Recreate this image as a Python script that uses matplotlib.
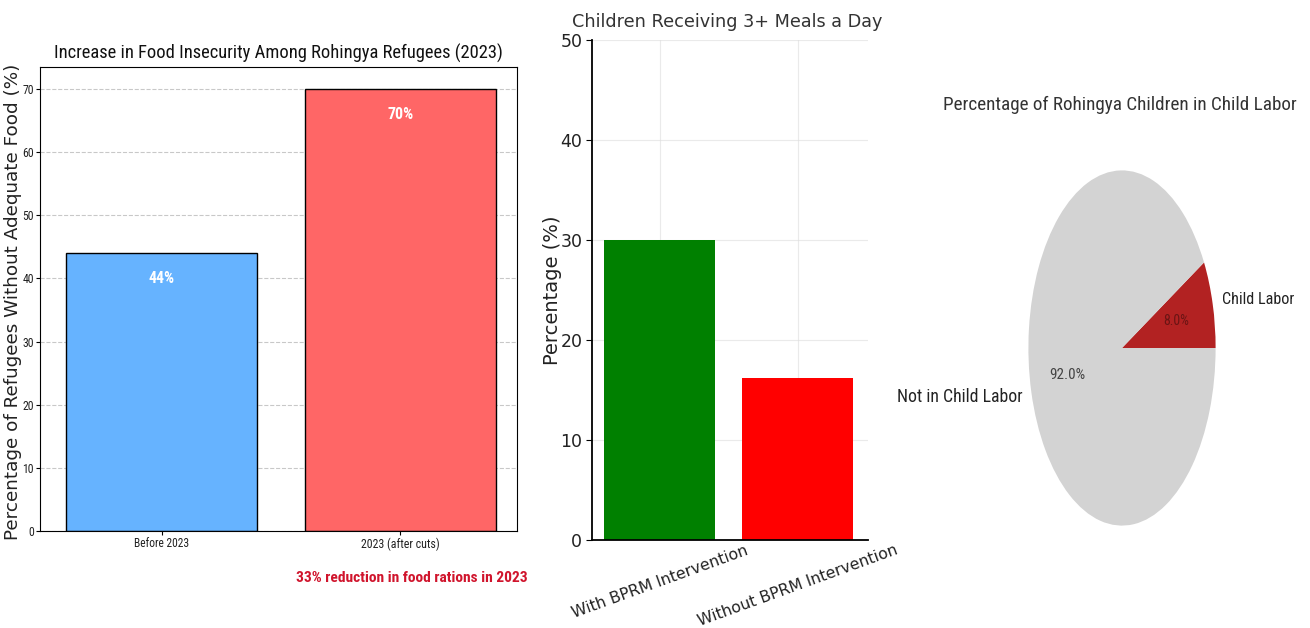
import matplotlib
matplotlib.use("Agg")
import matplotlib.pyplot as plt

# ---- data ----
food_categories = ["Before 2023", "2023 (after cuts)"]
food_values = [44, 70]
food_colors = ["#66b3ff", "#ff6666"]

meal_categories = ["With BPRM Intervention", "Without BPRM Intervention"]
meal_values = [30, 16.2]
meal_colors = ["green", "red"]

labor_labels = ["Child Labor", "Not in Child Labor"]
labor_values = [8, 92]
labor_colors = ["#b22222", "#d3d3d3"]

NARROW = ["Roboto Condensed", "Lato", "DejaVu Sans"]

fig = plt.figure(figsize=(13.1, 6.28), dpi=100)
W, H = 1310, 628

def add_ax(x0, y0, x1, y1):
    return fig.add_axes([x0 / W, 1 - y1 / H, (x1 - x0) / W, (y1 - y0) / H])

fits = []  # (text, target px, which dim)

# ---- panel 1 ----
ax1 = add_ax(40, 67, 517, 531)
x1 = range(len(food_categories))
ax1.bar(x1, food_values, color=food_colors, edgecolor="black", width=0.8, zorder=2)
ax1.set_ylim(0, 73.5)
ax1.set_xlim(-0.51, 1.49)
ax1.yaxis.grid(True, linestyle="--", color="#bbbbbb", alpha=0.8, zorder=0)
ax1.set_axisbelow(True)
ax1.set_xticks(list(x1))
ax1.set_xticklabels(food_categories, family=NARROW, fontsize=10, color="#222222")
ax1.set_yticks([0, 10, 20, 30, 40, 50, 60, 70])
for lab in ax1.get_yticklabels():
    lab.set_family(NARROW)
    lab.set_fontsize(8.5)
    lab.set_color("#222222")
ax1.tick_params(length=3, pad=1.5)
for xi, v in zip(x1, food_values):
    t = ax1.text(xi, v - 4, f"{v}%", ha="center", va="center", color="white",
                 fontweight="bold", fontsize=12, family=NARROW)
    fits.append((t, 26, "w"))
t1 = ax1.set_title("Increase in Food Insecurity Among Rohingya Refugees (2023)",
                   family=NARROW, fontsize=15, pad=6, color="#111111")
fits.append((t1, 450, "w"))
yl1 = ax1.set_ylabel("Percentage of Refugees Without Adequate Food (%)", fontsize=12.5, color="#222222")
ax1.yaxis.set_label_coords((22 - 40) / (517 - 40), (531 - 302) / (531 - 67))
fits.append((yl1, 480, "h"))
ann = ax1.text(412 / W, 1 - 578 / H, "33% reduction in food rations in 2023", transform=fig.transFigure,
               ha="center", va="center", color="#d0142c", fontweight="bold", fontsize=13, family=NARROW)
fits.append((ann, 231, "w"))
xl = ax1.get_xticklabels()
fits.append((xl[0], 55, "w"))
fits.append((xl[1], 78, "w"))

# ---- panel 2 ----
ax2 = add_ax(592, 40, 868, 540)
x2 = range(len(meal_categories))
ax2.bar(x2, meal_values, color=meal_colors, width=0.8, zorder=2)
ax2.set_ylim(0, 50)
ax2.set_xlim(-0.49, 1.51)
ax2.set_yticks([0, 10, 20, 30, 40, 50])
ax2.grid(True, color="#dddddd", linewidth=0.8, alpha=0.6, zorder=3)
ax2.spines["top"].set_visible(False)
ax2.spines["right"].set_visible(False)
ax2.spines["left"].set_linewidth(1.3)
ax2.spines["bottom"].set_linewidth(1.3)
ax2.set_xticks(list(x2))
ax2.set_xticklabels(meal_categories, rotation=20, ha="center", fontsize=13, color="#222222")
for lab in ax2.get_yticklabels():
    lab.set_fontsize(12.5)
    lab.set_color("#222222")
ax2.tick_params(axis="x", length=0, pad=2)
ax2.tick_params(axis="y", length=4, pad=3)
yl2 = ax2.set_ylabel("Percentage (%)", fontsize=13, color="#222222")
ax2.yaxis.set_label_coords((562 - 592) / (868 - 592), (540 - 290) / 500)
fits.append((yl2, 150, "h"))
t2 = fig.text(727 / W, 1 - 22 / H, "Children Receiving 3+ Meals a Day",
              ha="center", va="center", fontsize=14, color="#333333")
fits.append((t2, 311, "w"))
xl2 = ax2.get_xticklabels()
fits.append((xl2[0], 180, "w"))
fits.append((xl2[1], 203, "w"))

# ---- panel 3 ----
ax3 = add_ax(1005, 126, 1239, 570)
wedges, texts, autotexts = ax3.pie(labor_values, labels=labor_labels, colors=labor_colors,
                                   autopct="%1.1f%%", startangle=0,
                                   textprops={"family": NARROW, "fontsize": 13, "color": "#222222"},
                                   wedgeprops={"linewidth": 0})
autotexts[0].set_color("#6a1414")
autotexts[1].set_color("#444444")
fits.append((texts[0], 72, "w"))
fits.append((texts[1], 125, "w"))
fits.append((autotexts[0], 26, "w"))
fits.append((autotexts[1], 36, "w"))
ax3.set_aspect("auto")
ax3.set_xlim(-1.25, 1.25)
ax3.set_ylim(-1.25, 1.25)
t3 = fig.text(1120 / W, 1 - 105 / H, "Percentage of Rohingya Children in Child Labor",
              ha="center", va="center", fontsize=15, family=NARROW, color="#333333")
fits.append((t3, 356, "w"))

# ---- fit text sizes to the reference widths ----
fig.canvas.draw()
r = fig.canvas.get_renderer()
for t, target, dim in fits:
    bb = t.get_window_extent(r)
    cur = bb.width if dim == "w" else bb.height
    if cur > 0:
        t.set_fontsize(t.get_fontsize() * target / cur)

fig.savefig("out.png", dpi=100)
